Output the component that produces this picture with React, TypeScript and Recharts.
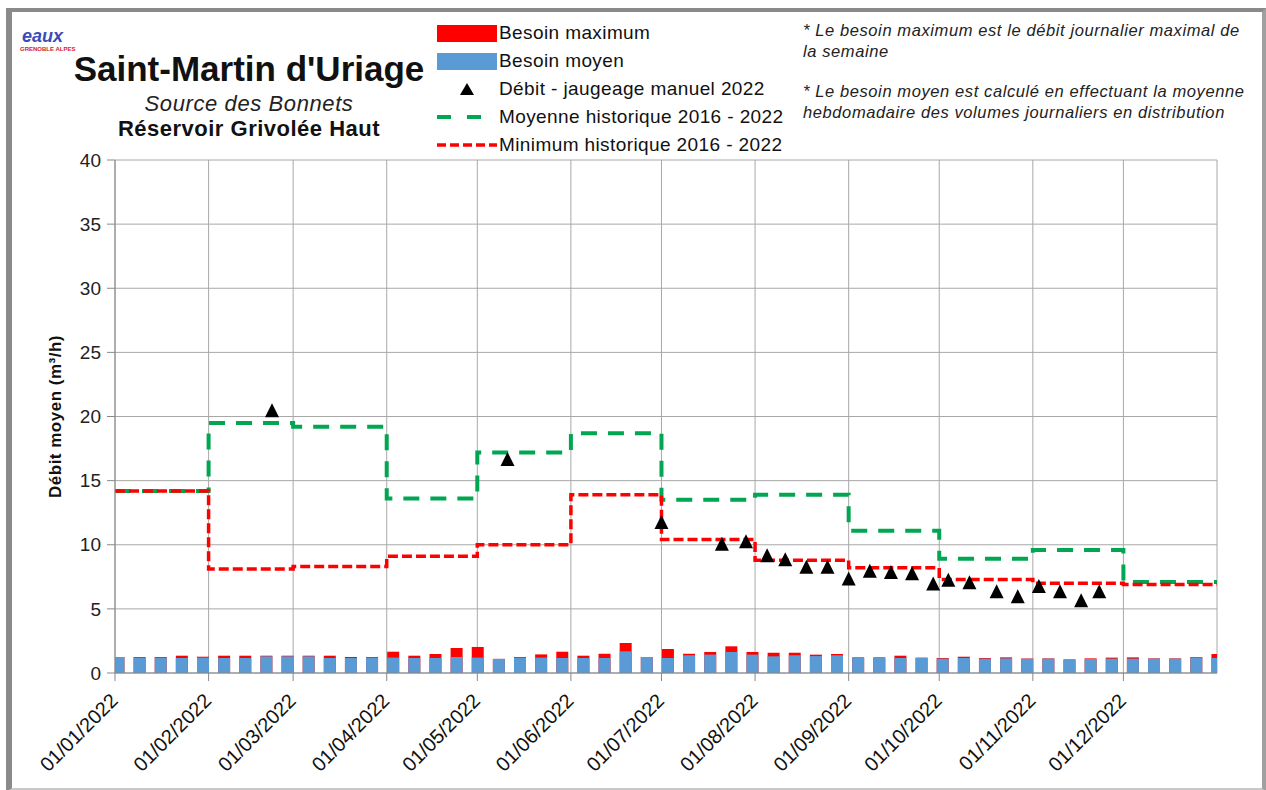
import { ComposedChart, Bar, Line, Scatter, XAxis, YAxis, CartesianGrid, Legend } from 'recharts';

const FONT = '"Liberation Sans", Arial, Helvetica, sans-serif';

// x axis: day of year 2022 (0 = 1 January)
const MONTH_START_DAYS = [0, 31, 59, 90, 120, 151, 181, 212, 243, 273, 304, 334];
const YEAR_END_DAY = 365;
const MONTH_LABELS = [
  '01/01/2022', '01/02/2022', '01/03/2022', '01/04/2022', '01/05/2022', '01/06/2022',
  '01/07/2022', '01/08/2022', '01/09/2022', '01/10/2022', '01/11/2022', '01/12/2022',
];
const Y_TICKS = [0, 5, 10, 15, 20, 25, 30, 35, 40];

// monthly historical values (m3/h)
const MOYENNE_HISTORIQUE = [14.2, 19.5, 19.2, 13.6, 17.2, 18.7, 13.5, 13.9, 11.1, 8.9, 9.6, 7.1];
const MINIMUM_HISTORIQUE = [14.2, 8.1, 8.3, 9.1, 10.0, 13.9, 10.4, 8.8, 8.2, 7.3, 7.0, 6.9];

// weekly needs, one bar per week
const BESOIN_MOYEN = [
  1.25, 1.2, 1.2, 1.17, 1.2, 1.17, 1.17, 1.3, 1.3, 1.3, 1.17, 1.17, 1.2, 1.2, 1.17, 1.17, 1.25, 1.2,
  1.1, 1.2, 1.2, 1.17, 1.17, 1.17, 1.69, 1.25, 1.17, 1.38, 1.43, 1.64, 1.43, 1.3, 1.38, 1.32, 1.38,
  1.17, 1.17, 1.17, 1.17, 1.12, 1.17, 1.12, 1.14, 1.12, 1.12, 1.04, 1.09, 1.12, 1.12, 1.12, 1.12,
  1.22, 1.17,
];
const BESOIN_MAXIMUM = [
  1.25, 1.25, 1.25, 1.35, 1.27, 1.35, 1.35, 1.35, 1.35, 1.35, 1.35, 1.25, 1.25, 1.66, 1.35, 1.48,
  1.95, 2.03, 1.1, 1.25, 1.45, 1.66, 1.35, 1.5, 2.34, 1.25, 1.87, 1.5, 1.64, 2.08, 1.64, 1.58, 1.58,
  1.43, 1.48, 1.22, 1.22, 1.35, 1.2, 1.17, 1.27, 1.17, 1.22, 1.14, 1.14, 1.06, 1.14, 1.2, 1.22,
  1.14, 1.14, 1.25, 1.48,
];
const FIRST_WEEK_DAY = 1;

// manual gauging 2022
const JAUGEAGE_DAYS = [52, 130, 181, 201, 209, 216, 222, 229, 236, 243, 250, 257, 264, 271, 276, 283, 292, 299, 306, 313, 320, 326];
const JAUGEAGE_VALUES = [20.4, 16.6, 11.7, 10.0, 10.2, 9.1, 8.8, 8.2, 8.2, 7.3, 7.9, 7.8, 7.7, 6.9, 7.2, 7.0, 6.3, 5.9, 6.7, 6.3, 5.6, 6.3];

const weekData = BESOIN_MOYEN.map((moyen, i) => ({
  day: FIRST_WEEK_DAY + i * 7,
  moyen,
  max: BESOIN_MAXIMUM[i],
}));

const stepData = [...MONTH_START_DAYS, YEAR_END_DAY].map((day, i) => {
  const m = Math.min(i, MONTH_START_DAYS.length - 1);
  return { day, moyenneHist: MOYENNE_HISTORIQUE[m], minimumHist: MINIMUM_HISTORIQUE[m] };
});

const jaugeageData = JAUGEAGE_DAYS.map((day, i) => ({ day, debit: JAUGEAGE_VALUES[i] }));

const RED = '#ff0000';
const BLUE = '#5b9bd5';
const GREEN = '#00a651';

function Triangle(props: any) {
  const { cx, cy } = props;
  if (cx == null || cy == null) return null;
  return <polygon points={`${cx},${cy - 8} ${cx - 7},${cy + 6} ${cx + 7},${cy + 6}`} fill="#000" />;
}

function DateTick(props: any) {
  const { x, y, payload } = props;
  const idx = MONTH_START_DAYS.indexOf(payload.value);
  const tx = x + 4;
  const ty = y + 19;
  return (
    <text
      x={tx}
      y={ty}
      transform={`rotate(-45, ${tx}, ${ty})`}
      textAnchor="end"
      fontSize={20}
      fontFamily={FONT}
      fill="#111"
    >
      {MONTH_LABELS[idx]}
    </text>
  );
}

function LegendContent() {
  const row = { display: 'flex', alignItems: 'center', height: 28, whiteSpace: 'nowrap' as const };
  const icon = { width: 60, display: 'flex', justifyContent: 'center', alignItems: 'center', marginRight: 2 };
  return (
    <div style={{ fontFamily: FONT, fontSize: 19, letterSpacing: 0.4, color: '#111' }}>
      <div style={row}>
        <span style={icon}><span style={{ width: 60, height: 17, background: RED }} /></span>Besoin maximum
      </div>
      <div style={row}>
        <span style={icon}><span style={{ width: 60, height: 17, background: BLUE }} /></span>Besoin moyen
      </div>
      <div style={row}>
        <span style={icon}>
          <svg width={14} height={12}><polygon points="7,0 0,12 14,12" fill="#000" /></svg>
        </span>
        Débit - jaugeage manuel 2022
      </div>
      <div style={row}>
        <span style={icon}>
          <svg width={60} height={6}><line x1={0} y1={3} x2={60} y2={3} stroke={GREEN} strokeWidth={4} strokeDasharray="14 16" /></svg>
        </span>
        Moyenne historique 2016 - 2022
      </div>
      <div style={row}>
        <span style={icon}>
          <svg width={60} height={6}><line x1={0} y1={3} x2={60} y2={3} stroke={RED} strokeWidth={3.5} strokeDasharray="9 4" /></svg>
        </span>
        Minimum historique 2016 - 2022
      </div>
    </div>
  );
}

export default function App() {
  return (
    <div style={{ position: 'absolute', left: 0, top: 0, width: 1266, height: 790, background: '#fff', fontFamily: FONT }}>
      <div
        style={{
          position: 'absolute', left: 6, top: 8, width: 1250, height: 776,
          borderTop: '4px solid #8a8a8a', borderLeft: '6px solid #8a8a8a',
          borderRight: '4px solid #a0a0a0', borderBottom: '4px solid #c8c8c8',
        }}
      />
      <div style={{ position: 'absolute', left: 22, top: 26, color: '#3b4bb8', fontSize: 18, fontStyle: 'italic', fontWeight: 'bold' }}>eaux</div>
      <div style={{ position: 'absolute', left: 20, top: 46, color: '#d02030', fontSize: 6, fontWeight: 'bold' }}>GRENOBLE ALPES</div>
      <div style={{ position: 'absolute', left: 49, width: 400, top: 49, textAlign: 'center', fontSize: 35, fontWeight: 'bold', color: '#111' }}>
        Saint-Martin d'Uriage
      </div>
      <div style={{ position: 'absolute', left: 49, width: 400, top: 91, textAlign: 'center', fontSize: 22, letterSpacing: 0.6, fontStyle: 'italic', color: '#222' }}>
        Source des Bonnets
      </div>
      <div style={{ position: 'absolute', left: 49, width: 400, top: 116, textAlign: 'center', fontSize: 22, letterSpacing: 0.5, fontWeight: 'bold', color: '#111' }}>
        Réservoir Grivolée Haut
      </div>
      <div style={{ position: 'absolute', left: 803, top: 20, width: 460, fontSize: 16.5, letterSpacing: 0.6, fontStyle: 'italic', color: '#222', lineHeight: '21px', whiteSpace: 'nowrap' }}>
        <div>* Le besoin maximum est le débit journalier maximal de</div>
        <div>la semaine</div>
        <div style={{ marginTop: 19 }}>* Le besoin moyen est calculé en effectuant la moyenne</div>
        <div>hebdomadaire des volumes journaliers en distribution</div>
      </div>
      <div style={{ position: 'absolute', left: 0, top: 0 }}>
        <ComposedChart
          width={1266}
          height={790}
          data={weekData}
          margin={{ top: 160, right: 49, bottom: 10, left: 55 }}
          barGap={-12}
        >
          <CartesianGrid stroke="#a8a8a8" strokeWidth={1} />
          <XAxis
            dataKey="day"
            type="number"
            domain={[0, YEAR_END_DAY]}
            ticks={MONTH_START_DAYS}
            interval={0}
            height={107}
            tick={<DateTick />}
            tickSize={8}
            axisLine={{ stroke: '#888' }}
            tickLine={{ stroke: '#888' }}
            allowDataOverflow
          />
          <XAxis
            xAxisId="pts"
            dataKey="day"
            type="number"
            domain={[0, YEAR_END_DAY]}
            hide
            allowDataOverflow
          />
          <YAxis
            type="number"
            domain={[0, 40]}
            ticks={Y_TICKS}
            width={60}
            tickSize={8}
            tickMargin={6}
            axisLine={{ stroke: '#888' }}
            tickLine={{ stroke: '#888' }}
            tick={{ fontSize: 19, fill: '#222', fontFamily: FONT }}
            label={{
              value: 'Débit moyen (m³/h)',
              angle: -90,
              position: 'insideLeft',
              offset: 0,
              dx: 0,
              style: { fontSize: 17, letterSpacing: 0.5, fontWeight: 'bold', fill: '#111', fontFamily: FONT, textAnchor: 'middle' },
            }}
          />
          <Legend
            layout="horizontal"
            verticalAlign="middle"
            align="center"
            wrapperStyle={{ left: 437, top: 19, width: 360 }}
            content={<LegendContent />}
          />
          <Bar dataKey="max" name="Besoin maximum" fill={RED} barSize={12} isAnimationActive={false} />
          <Bar dataKey="moyen" name="Besoin moyen" fill={BLUE} barSize={12} isAnimationActive={false} />
          <Line
            xAxisId="pts"
            data={stepData}
            dataKey="moyenneHist"
            name="Moyenne historique 2016 - 2022"
            type="stepAfter"
            stroke={GREEN}
            strokeWidth={4}
            strokeDasharray="16 11"
            dot={false}
            activeDot={false}
            isAnimationActive={false}
          />
          <Line
            xAxisId="pts"
            data={stepData}
            dataKey="minimumHist"
            name="Minimum historique 2016 - 2022"
            type="stepAfter"
            stroke={RED}
            strokeWidth={3.5}
            strokeDasharray="10 4"
            dot={false}
            activeDot={false}
            isAnimationActive={false}
          />
          <Scatter
            xAxisId="pts"
            data={jaugeageData}
            dataKey="debit"
            name="Débit - jaugeage manuel 2022"
            shape={<Triangle />}
            isAnimationActive={false}
          />
        </ComposedChart>
      </div>
    </div>
  );
}
